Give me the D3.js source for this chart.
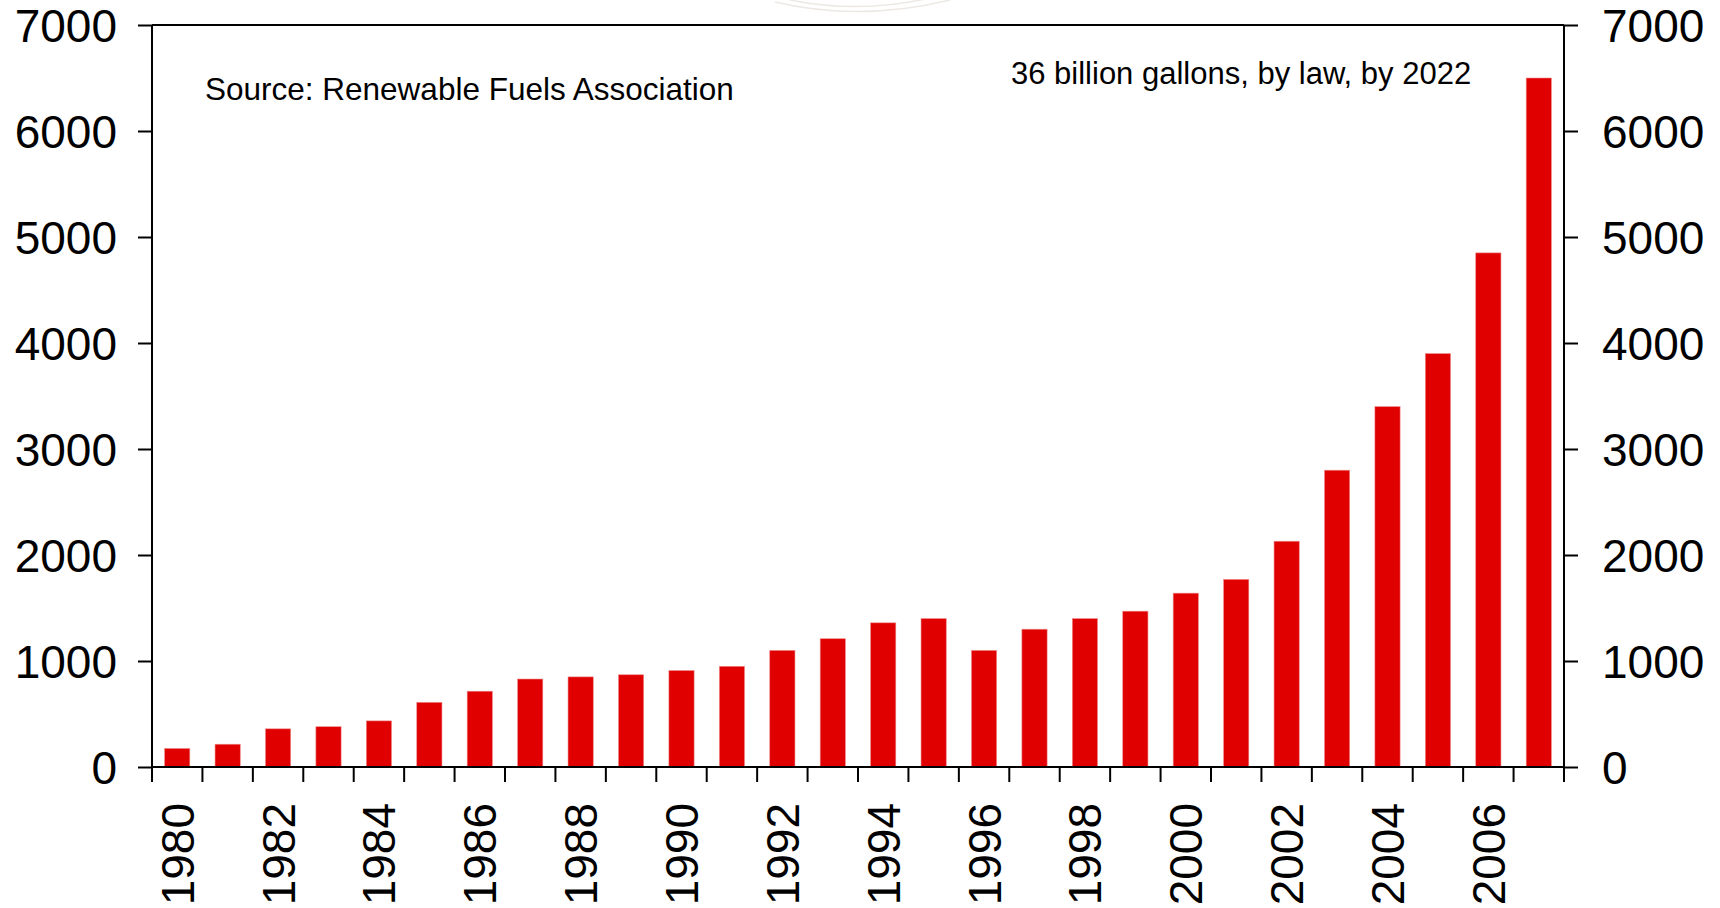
<!DOCTYPE html>
<html>
<head>
<meta charset="utf-8">
<script src="https://cdn.jsdelivr.net/npm/d3@7"></script>
<style>
  html, body { margin: 0; padding: 0; background: #fff; }
  svg { display: block; }
  text { font-family: "Liberation Sans", Arial, Helvetica, sans-serif; fill: #000; }
</style>
</head>
<body>
<svg id="chart" width="1720" height="908"></svg>
<script>
// ---- data ----
const years = [1980,1981,1982,1983,1984,1985,1986,1987,1988,1989,1990,1991,1992,1993,
               1994,1995,1996,1997,1998,1999,2000,2001,2002,2003,2004,2005,2006,2007];
const production = [175,215,360,380,435,610,715,830,850,870,910,950,1100,1210,
                    1360,1400,1100,1300,1400,1470,1640,1770,2130,2800,3400,3900,4850,6500];
const yTicks = [0,1000,2000,3000,4000,5000,6000,7000];
const xLabelYears = [1980,1982,1984,1986,1988,1990,1992,1994,1996,1998,2000,2002,2004,2006];
const sourceNote = "Source: Renewable Fuels Association";
const lawNote = "36 billion gallons, by law, by 2022";

// ---- layout ----
const svg = d3.select("#chart");
const plotL = 152, plotR = 1564, plotT = 25, plotB = 767;
const tickLen = 14;

const x = d3.scaleBand().domain(years).range([plotL, plotR])
  .paddingInner(0.5).paddingOuter(0.25);
const y = d3.scaleLinear().domain([0, 7000]).range([plotB, plotT]);

// faint watermark arcs at top
const wm = svg.append("g").attr("fill", "none").attr("stroke", "#ece8e4").attr("stroke-width", 1.5);
wm.append("path").attr("d", "M775,2 Q860,22 950,0");
wm.append("path").attr("d", "M790,0 Q860,14 930,-2");

// bars
svg.append("g").selectAll("rect").data(years).join("rect")
  .attr("x", d => x(d))
  .attr("width", x.bandwidth())
  .attr("y", (d, i) => y(production[i]))
  .attr("height", (d, i) => y(0) - y(production[i]))
  .attr("fill", "#e00000")
  .attr("stroke", "#f08a8a")
  .attr("stroke-width", 0.6);

// left axis
const yAxisL = d3.axisLeft(y).tickValues(yTicks).tickSize(tickLen).tickPadding(21)
  .tickFormat(d3.format("d"));
const gL = svg.append("g").attr("transform", `translate(${plotL},0)`).call(yAxisL);
// right axis
const yAxisR = d3.axisRight(y).tickValues(yTicks).tickSize(tickLen).tickPadding(24)
  .tickFormat(d3.format("d"));
const gR = svg.append("g").attr("transform", `translate(${plotR},0)`).call(yAxisR);
[gL, gR].forEach(g => {
  g.select(".domain").attr("stroke", "#000").attr("stroke-width", 2)
    .attr("d", `M0,${plotT}V${plotB}`);
  g.selectAll(".tick line").attr("stroke", "#000").attr("stroke-width", 2);
  g.selectAll(".tick text").attr("font-size", 46).attr("font-family", "Liberation Sans, Arial, sans-serif")
    .attr("fill", "#000").attr("dy", "0.36em");
});

// top border and baseline
svg.append("line").attr("x1", plotL).attr("x2", plotR).attr("y1", y(7000)).attr("y2", y(7000))
  .attr("stroke", "#000").attr("stroke-width", 2);
svg.append("line").attr("x1", plotL).attr("x2", plotR).attr("y1", y(0)).attr("y2", y(0))
  .attr("stroke", "#000").attr("stroke-width", 2);

// x ticks at band boundaries
const step = x.step();
const boundaries = years.map(d => x(d) + x.bandwidth() / 2 - step / 2)
  .concat([x(years[years.length - 1]) + x.bandwidth() / 2 + step / 2]);
svg.append("g").selectAll("line").data(boundaries).join("line")
  .attr("x1", d => d).attr("x2", d => d)
  .attr("y1", plotB).attr("y2", plotB + 15)
  .attr("stroke", "#000").attr("stroke-width", 2);

// x labels, rotated
svg.append("g").selectAll("text").data(xLabelYears).join("text")
  .attr("transform", d => `translate(${x(d) + x.bandwidth() / 2},803) rotate(-90)`)
  .attr("text-anchor", "end")
  .attr("dy", "0.36em")
  .attr("font-size", 46)
  .text(d => d);

// annotations
svg.append("text").attr("x", 205).attr("y", 100).attr("font-size", 31.5).text(sourceNote);
svg.append("text").attr("x", 1011).attr("y", 84).attr("font-size", 31).text(lawNote);
</script>
</body>
</html>
